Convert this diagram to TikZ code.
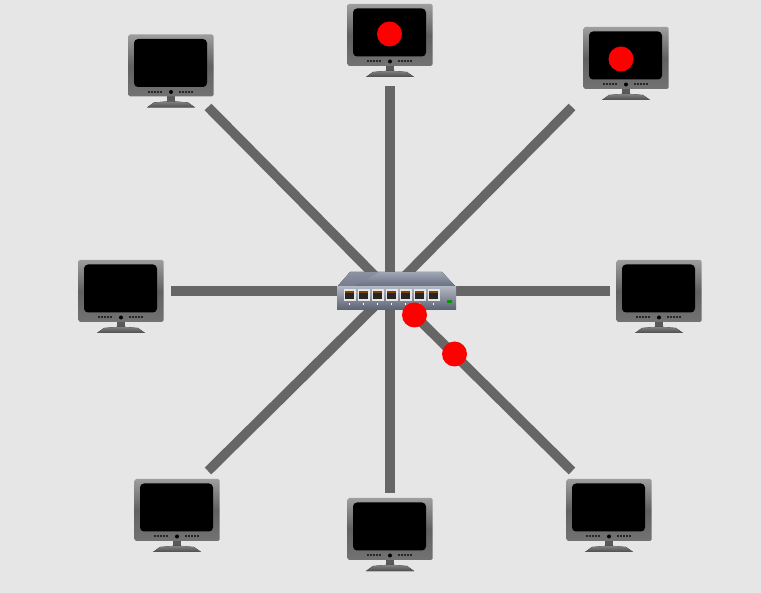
\documentclass[tikz,border=0pt]{standalone}
\usetikzlibrary{positioning}
\definecolor{paper}{HTML}{E6E6E6}
\definecolor{wire}{HTML}{666666}
\definecolor{hubtop}{HTML}{8E96A6}
\definecolor{hubdark}{HTML}{666C7E}
\tikzset{
	link/.style = {draw = wire, line width = 9.5pt},
	packet/.style = {circle, fill = red, minimum size = 25pt, inner sep = 0pt},
	casing/.style = {rectangle, rounded corners = 1.5pt, minimum width = 85pt, minimum height = 62pt, inner sep = 0pt, top color = black!38, bottom color = black!55, middle color = black!62},
	monitor/.pic = {
		\fill[black!65] (-4,30) rectangle (4,38);
		\fill[top color = black!50, bottom color = black!70] (-17,37) -- (-5,36) -- (5,36) -- (17,37) -- (24,42) -- (-24,42) -- cycle;
		\node[casing] (-body) at (0,0) {};
		\fill[black, rounded corners = 4pt] (-37,-26.5) rectangle (36,21.5);
		\foreach \dx in {-23,-20,-17,-14,-11,8,11,14,17,20}
			\fill[black!85] (\dx,25.5) rectangle +(2.2,2);
		\fill[black] (0,26.5) circle (2pt);
	},
}
\begin{document}
\begin{tikzpicture}[x = 1pt, y = -1pt]
	\useasboundingbox (0,0) rectangle (761,593);
	\fill[paper] (0,0) rectangle (761,593);
	\coordinate (core) at (390,291);
	\coordinate (endnw) at (208,107); %ends of the links
	\coordinate (endn) at (390,86);
	\coordinate (endne) at (572,107);
	\coordinate (endw) at (171,291);
	\coordinate (ende) at (610,291);
	\coordinate (endsw) at (208,471);
	\coordinate (ends) at (390,493);
	\coordinate (endse) at (572,471);
	\foreach \e in {endnw,endn,endne,endw,ende,endsw,ends,endse}
		\draw[link] (core) -- (\e);
	\foreach \n/\x/\y in {nw/171/65.5,n/390/35,ne/626/58,w/121/291,e/659/291,sw/177/510,s/390/529,se/609/510}
		\pic (mon\n) at (\x,\y) {monitor};
	%hub
	\fill[top color = hubtop!85!white, bottom color = hubdark] (350,272) -- (442,272) -- (456,287) -- (337,287) -- cycle;
	\fill[hubtop!60!hubdark, opacity = .6] (350,272) -- (380,272) -- (352,287) -- (337,287) -- cycle;
	\node[rectangle, minimum width = 119pt, minimum height = 23pt, inner sep = 0pt, top color = hubtop!70!white, bottom color = hubdark!90!black] (hub) at (396.5,298.5) {};
	\foreach \i in {0,...,6} {
		\fill[white!90!black] (343.5+14*\i,289.5) rectangle +(12,12);
		\fill[black!85] (345+14*\i,291) rectangle +(9,8);
		\fill[orange!50!black] (345+14*\i,291) rectangle +(9,2);
		\fill[white] (349.3+14*\i,303.5) rectangle +(1,1.5);
	}
	\fill[green!60!black] (446.5,300) rectangle +(5.5,3.5);
	%packets
	\node[packet] (pkta) at (389.5,34) {};
	\node[packet] (pktb) at (621,59) {};
	\node[packet] (pktc) at (414.5,315) {};
	\node[packet] (pktd) at (454.5,354) {};
\end{tikzpicture}
\end{document}
